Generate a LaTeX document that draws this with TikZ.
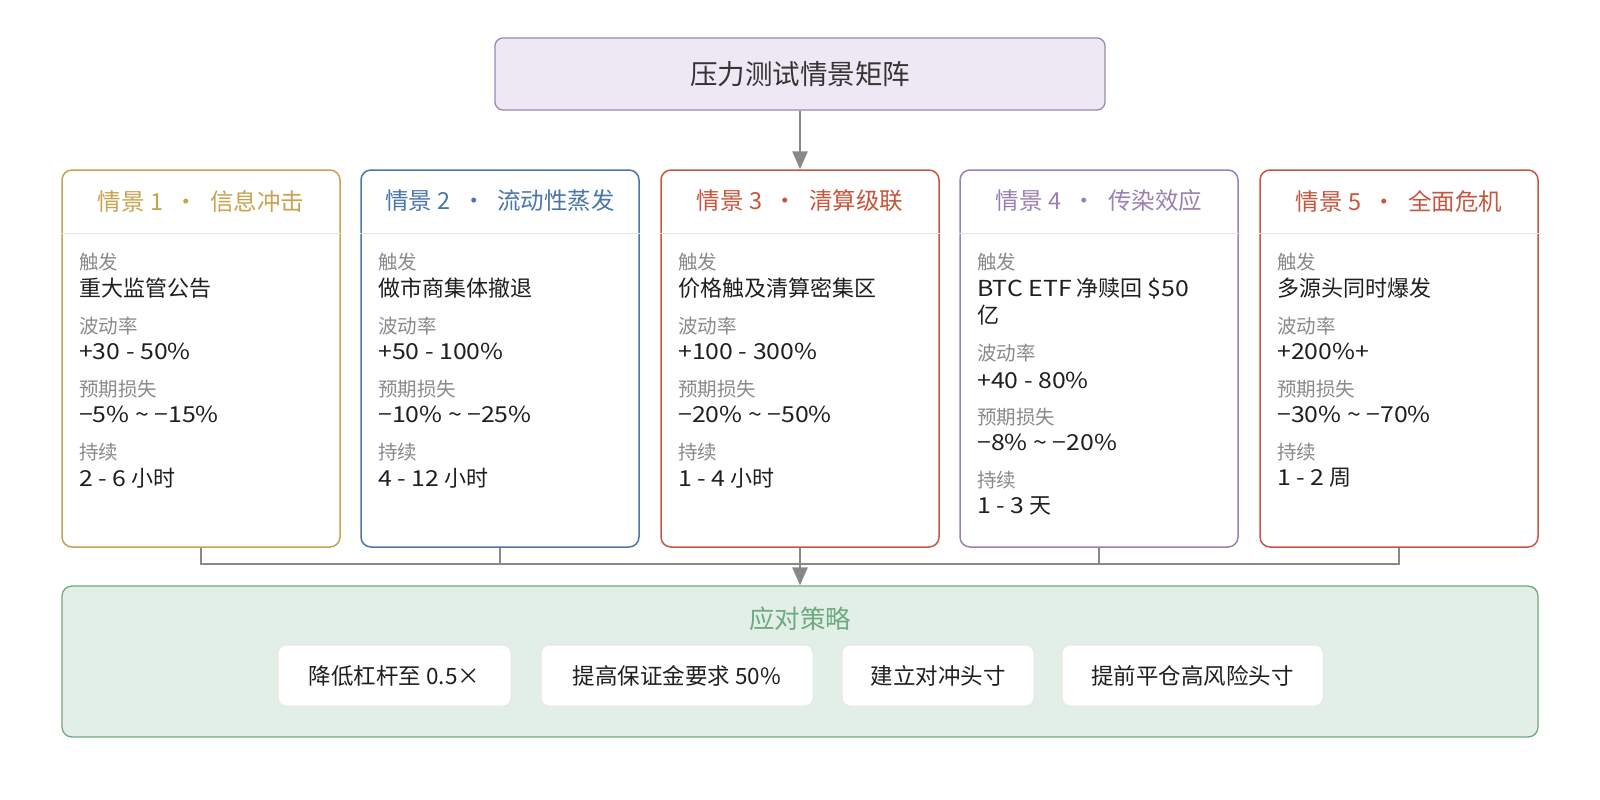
\documentclass[tikz,border=0pt]{standalone}
\usepackage{fontspec}
\setmainfont{Noto Sans CJK SC}
\newfontfamily\lt[FakeStretch=1.13]{Noto Sans CJK SC}
\usetikzlibrary{arrows.meta}
\definecolor{cgold}{HTML}{C9A24E}
\definecolor{cblue}{HTML}{4A76A8}
\definecolor{cred}{HTML}{C8553D}
\definecolor{cpurp}{HTML}{9B80B2}
\definecolor{tfill}{HTML}{EEE8F4}
\definecolor{tbord}{HTML}{9C86B5}
\definecolor{gfill}{HTML}{E2EFE6}
\definecolor{gbord}{HTML}{6DAA80}
\definecolor{gtext}{HTML}{6DAA80}
\definecolor{lbl}{HTML}{8A8A8A}
\definecolor{val}{HTML}{1F1F1F}
\definecolor{conn}{HTML}{888888}
\definecolor{sepc}{HTML}{E4E4E4}
\definecolor{sbord}{HTML}{E6E6E6}
\tikzset{
  titlebox/.style={draw=tbord, fill=tfill, line width=1.3pt, rounded corners=8pt, minimum width=610pt, minimum height=72pt, inner sep=0pt, font=\fontsize{27.5}{32}\selectfont, text=val!90},
  card/.style={line width=1.5pt, rounded corners=10pt, minimum width=278pt, minimum height=377pt, inner sep=0pt, fill=white},
  hdr/.style={font=\fontsize{23.5}{28}\selectfont, inner sep=0pt},
  sepline/.style={draw=sepc, line width=1.2pt},
  lab/.style={anchor=west, inner sep=0pt, font=\fontsize{19.5}{22}\selectfont, text=lbl},
  vtxt/.style={anchor=west, inner sep=0pt, font=\fontsize{22}{27.5}\selectfont, text=val, align=left},
  conline/.style={draw=conn, line width=2.8pt},
  conarrow/.style={draw=conn, line width=2.8pt, -{Triangle[length=18pt,width=15pt]}},
  greenbox/.style={draw=gbord, fill=gfill, line width=1.3pt, rounded corners=10pt, minimum width=1476pt, minimum height=151pt, inner sep=0pt},
  gtitle/.style={font=\fontsize{25.5}{30}\selectfont, inner sep=0pt, text=gtext},
  strat/.style={draw=sbord, fill=white, line width=1pt, rounded corners=8pt, minimum height=61pt, inner sep=0pt, font=\fontsize{22.5}{26}\selectfont, text=val}
}
\begin{document}
\begin{tikzpicture}[x=1pt,y=-1pt]
\useasboundingbox (0,0) rectangle (1600,800);

\node[titlebox] (title) at (800,74) {压力测试情景矩阵};

% cards
\node[card, draw=cgold] (c1) at (201,358.5) {};
\node[card, draw=cblue] (c2) at (500,358.5) {};
\node[card, draw=cred]  (c3) at (800,358.5) {};
\node[card, draw=cpurp] (c4) at (1099,358.5) {};
\node[card, draw=cred]  (c5) at (1399,358.5) {};

\foreach \c in {c1,c2,c3,c4,c5}{
  \draw[sepline] ([yshift=-64pt]\c.north west) -- ([yshift=-64pt]\c.north east);
}

\node[hdr, text=cgold] (c1h) at (201,201) {情景 1\hspace{0.5em}·\hspace{0.5em}信息冲击};
\node[hdr, text=cblue] (c2h) at (500,201) {情景 2\hspace{0.5em}·\hspace{0.5em}流动性蒸发};
\node[hdr, text=cred]  (c3h) at (800,201) {情景 3\hspace{0.5em}·\hspace{0.5em}清算级联};
\node[hdr, text=cpurp] (c4h) at (1099,201) {情景 4\hspace{0.5em}·\hspace{0.5em}传染效应};
\node[hdr, text=cred]  (c5h) at (1399,201) {情景 5\hspace{0.5em}·\hspace{0.5em}全面危机};

% card 1
\node[lab]  (c1l1) at (79,262) {触发};
\node[vtxt] (c1v1) at (79,288) {重大监管公告};
\node[lab]  (c1l2) at (79,326) {波动率};
\node[vtxt] (c1v2) at (79,351) {\lt +30 - 50\%};
\node[lab]  (c1l3) at (79,389) {预期损失};
\node[vtxt] (c1v3) at (79,414) {\lt −5\% \textasciitilde{} −15\%};
\node[lab]  (c1l4) at (79,452) {持续};
\node[vtxt] (c1v4) at (79,478) {{\lt 2 - 6} 小时};

% card 2
\node[lab]  (c2l1) at (378,262) {触发};
\node[vtxt] (c2v1) at (378,288) {做市商集体撤退};
\node[lab]  (c2l2) at (378,326) {波动率};
\node[vtxt] (c2v2) at (378,351) {\lt +50 - 100\%};
\node[lab]  (c2l3) at (378,389) {预期损失};
\node[vtxt] (c2v3) at (378,414) {\lt −10\% \textasciitilde{} −25\%};
\node[lab]  (c2l4) at (378,452) {持续};
\node[vtxt] (c2v4) at (378,478) {{\lt 4 - 12} 小时};

% card 3
\node[lab]  (c3l1) at (678,262) {触发};
\node[vtxt] (c3v1) at (678,288) {价格触及清算密集区};
\node[lab]  (c3l2) at (678,326) {波动率};
\node[vtxt] (c3v2) at (678,351) {\lt +100 - 300\%};
\node[lab]  (c3l3) at (678,389) {预期损失};
\node[vtxt] (c3v3) at (678,414) {\lt −20\% \textasciitilde{} −50\%};
\node[lab]  (c3l4) at (678,452) {持续};
\node[vtxt] (c3v4) at (678,478) {{\lt 1 - 4} 小时};

% card 4
\node[lab]  (c4l1) at (977,262) {触发};
\node[vtxt] (c4v1) at (977,301.5) {{\lt BTC ETF} 净赎回 {\lt \$50}\\亿};
\node[lab]  (c4l2) at (977,353) {波动率};
\node[vtxt] (c4v2) at (977,380) {\lt +40 - 80\%};
\node[lab]  (c4l3) at (977,417) {预期损失};
\node[vtxt] (c4v3) at (977,442) {\lt −8\% \textasciitilde{} −20\%};
\node[lab]  (c4l4) at (977,480) {持续};
\node[vtxt] (c4v4) at (977,506) {{\lt 1 - 3} 天};

% card 5
\node[lab]  (c5l1) at (1277,262) {触发};
\node[vtxt] (c5v1) at (1277,288) {多源头同时爆发};
\node[lab]  (c5l2) at (1277,326) {波动率};
\node[vtxt] (c5v2) at (1277,351) {\lt +200\%+};
\node[lab]  (c5l3) at (1277,389) {预期损失};
\node[vtxt] (c5v3) at (1277,414) {\lt −30\% \textasciitilde{} −70\%};
\node[lab]  (c5l4) at (1277,452) {持续};
\node[vtxt] (c5v4) at (1277,478) {{\lt 1 - 2} 周};

% strategy box
\node[greenbox] (green) at (800,661.5) {};
\node[gtitle] (gt) at (800,619) {应对策略};
\node[strat, minimum width=233pt] (s1) at (394.5,675.5) {降低杠杆至 0.5×};
\node[strat, minimum width=272pt] (s2) at (677,675.5) {提高保证金要求 50\%};
\node[strat, minimum width=192pt] (s3) at (938,675.5) {建立对冲头寸};
\node[strat, minimum width=261pt] (s4) at (1192.5,675.5) {提前平仓高风险头寸};

% connectors
\draw[conarrow] (title.south) -- (c3.north);
\coordinate (b1) at (c1.south |- 0,564);
\coordinate (b2) at (c2.south |- 0,564);
\coordinate (b4) at (c4.south |- 0,564);
\coordinate (b5) at (c5.south |- 0,564);
\draw[conline] (c1.south) -- (b1);
\draw[conline] (c2.south) -- (b2);
\draw[conline] (c4.south) -- (b4);
\draw[conline] (c5.south) -- (b5);
\draw[conline, line cap=rect] (b1) -- (b5);
\draw[conarrow] (c3.south) -- (green.north);
\end{tikzpicture}
\end{document}
